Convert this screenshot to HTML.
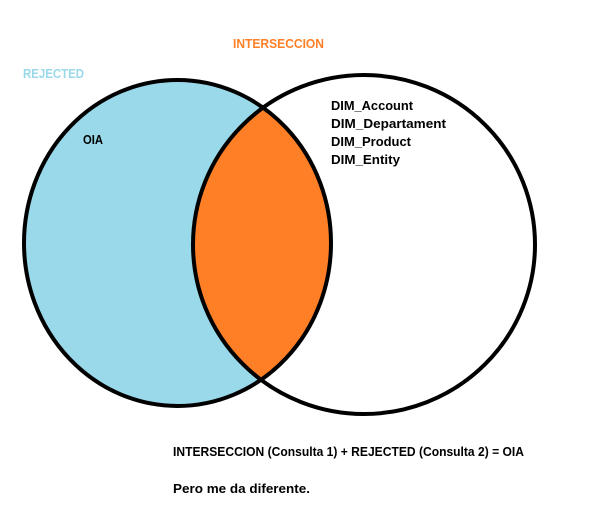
<!DOCTYPE html>
<html><head><style>html,body{margin:0;padding:0;background:#fff;}svg{display:block}</style></head>
<body>
<svg width="614" height="505" xmlns="http://www.w3.org/2000/svg" font-family="Liberation Sans, sans-serif" font-weight="bold">
<defs>
<clipPath id="c"><ellipse cx="364" cy="244.5" rx="171" ry="169.5"/></clipPath>
</defs>
<ellipse cx="177.5" cy="243" rx="153.5" ry="163" fill="#99d9ea"/>
<ellipse cx="364" cy="244.5" rx="171" ry="169.5" fill="#fff"/>
<ellipse cx="177.5" cy="243" rx="153.5" ry="163" fill="#ff7f27" clip-path="url(#c)"/>
<ellipse cx="177.5" cy="243" rx="153.5" ry="163" fill="none" stroke="#000" stroke-width="4"/>
<ellipse cx="364" cy="244.5" rx="171" ry="169.5" fill="none" stroke="#000" stroke-width="4"/>
<text x="233" y="48" font-size="13" fill="#ff7f27" textLength="91" lengthAdjust="spacingAndGlyphs">INTERSECCION</text>
<text x="23" y="78" font-size="13" fill="#99d9ea" textLength="61" lengthAdjust="spacingAndGlyphs">REJECTED</text>
<text x="83" y="144" font-size="13" fill="#000" textLength="20" lengthAdjust="spacingAndGlyphs">OIA</text>
<text x="331" y="110" font-size="13" fill="#000" textLength="82" lengthAdjust="spacingAndGlyphs">DIM_Account</text>
<text x="331" y="128" font-size="13" fill="#000" textLength="115" lengthAdjust="spacingAndGlyphs">DIM_Departament</text>
<text x="331" y="146" font-size="13" fill="#000" textLength="80" lengthAdjust="spacingAndGlyphs">DIM_Product</text>
<text x="331" y="164" font-size="13" fill="#000" textLength="69" lengthAdjust="spacingAndGlyphs">DIM_Entity</text>
<text x="173" y="456" font-size="13" fill="#000" textLength="351" lengthAdjust="spacingAndGlyphs">INTERSECCION (Consulta 1) + REJECTED (Consulta 2) = OIA</text>
<text x="173" y="493" font-size="13" fill="#000" textLength="137" lengthAdjust="spacingAndGlyphs">Pero me da diferente.</text>
</svg>
</body></html>
